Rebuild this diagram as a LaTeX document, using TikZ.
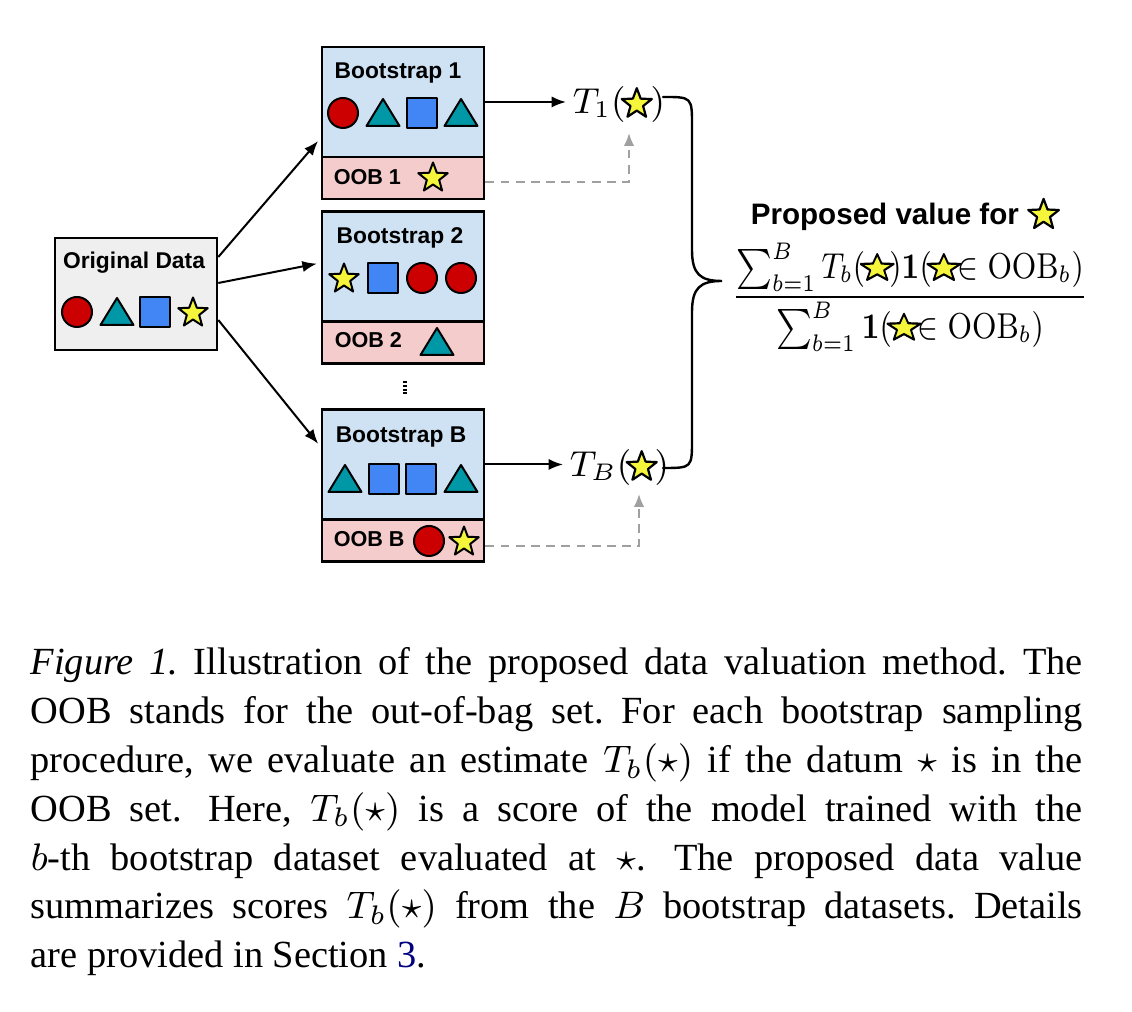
\RequirePackage{fix-cm}
\documentclass[tikz,border=0pt]{standalone}
\usepackage[no-math]{fontspec}
\setmainfont{Liberation Serif}
\setsansfont{Liberation Sans}
\usetikzlibrary{arrows.meta,calc}
\definecolor{boxgray}{HTML}{EFEFEF}
\definecolor{boxblue}{HTML}{CFE2F3}
\definecolor{boxpink}{HTML}{F4CCCC}
\definecolor{cred}{HTML}{CC0000}
\definecolor{cteal}{HTML}{0097A7}
\definecolor{cblue}{HTML}{4285F4}
\definecolor{cyel}{HTML}{F5F53C}
\definecolor{dgray}{HTML}{A0A0A0}
\definecolor{linknavy}{rgb}{0,0,0.5}
% inline star: #1 = x unit (pt), #2 = y unit (pt)
\newcommand{\ystrxy}[2]{\tikz[baseline={(0,10)}, x=#1pt, y=-#2pt]\draw[line width=0.55pt, fill=cyel, line join=round] (270:15.5) -- (306:6.5) -- (342:15.5) -- (18:6.5) -- (54:15.5) -- (90:6.5) -- (126:15.5) -- (162:6.5) -- (198:15.5) -- (234:6.5) -- cycle;}
\tikzset{
 shapeline/.style={line width=0.5pt, draw=black, line join=round},
 pcirc/.pic={\draw[shapeline, fill=cred] (0,0) circle[radius=3.75pt];},
 ptri/.pic={\draw[shapeline, fill=cteal] (0,-14) -- (16.5,13) -- (-16.5,13) -- cycle;},
 psq/.pic={\draw[shapeline, fill=cblue] (-15,-15) rectangle (15,15);},
 pstar/.pic={\draw[shapeline, fill=cyel] (270:15.5) -- (306:6.5) -- (342:15.5) -- (18:6.5) -- (54:15.5) -- (90:6.5) -- (126:15.5) -- (162:6.5) -- (198:15.5) -- (234:6.5) -- cycle;},
 boxtop/.style={draw, line width=0.65pt, fill=boxblue, minimum width=40.5pt, minimum height=27.5pt, inner sep=0pt},
 boxoob/.style={draw, line width=0.65pt, fill=boxpink, minimum width=40.5pt, minimum height=10.5pt, inner sep=0pt},
 boxorig/.style={draw, line width=0.65pt, fill=boxgray, minimum width=40.5pt, minimum height=28pt, inner sep=0pt},
 titlefont/.style={font=\fontsize{5.7pt}{6.8pt}\selectfont\sffamily\bfseries, inner sep=0pt},
 oobfont/.style={font=\fontsize{5.4pt}{6.5pt}\selectfont\sffamily\bfseries, inner sep=0pt},
 mathlbl/.style={font=\fontsize{9pt}{10.8pt}\selectfont, inner sep=1.5pt},
 arr/.style={line width=0.5pt, -{Latex[length=3.6pt,width=2.8pt]}},
 dasharr/.style={line width=0.5pt, dgray, dash pattern=on 2.2pt off 1.6pt, -{Latex[length=3.2pt,width=2.6pt]}},
}
\newcommand{\fstar}{\ystrxy{0.33}{0.23}}
\begin{document}
\begin{tikzpicture}[x=0.25pt, y=-0.25pt]
\useasboundingbox (0,0) rectangle (1132,1012);
% original data
\node[boxorig] (orig) at (136,294) {};
\node[titlefont, anchor=base] (origt) at (134,269) {Original Data};
\pic at (77,312) {pcirc};
\pic at (117,312) {ptri};
\pic at (155,312) {psq};
\pic at (193,313) {pstar};
% bootstrap 1
\node[boxtop] (b1) at (403,102) {};
\node[boxoob] (o1) at (403,178) {};
\node[titlefont, anchor=base] (b1t) at (398,79) {Bootstrap 1};
\pic at (343,113) {pcirc};
\pic at (383,113) {ptri};
\pic at (422,113) {psq};
\pic at (461,113) {ptri};
\node[oobfont, anchor=base west] (o1t) at (333,185) {OOB 1};
\pic at (433,178) {pstar};
% bootstrap 2
\node[boxtop] (b2) at (403,266.5) {};
\node[boxoob] (o2) at (403,342.5) {};
\node[titlefont, anchor=base] (b2t) at (400,244) {Bootstrap 2};
\pic at (344,279) {pstar};
\pic at (383,278) {psq};
\pic at (422,278) {pcirc};
\pic at (461,278) {pcirc};
\node[oobfont, anchor=base west] (o2t) at (334,348) {OOB 2};
\pic at (437,342) {ptri};
% dots
\draw[line width=1pt, dash pattern=on 0.5pt off 0.45pt] (405,381) -- (405,396);
% bootstrap B
\node[boxtop] (bB) at (403,464.5) {};
\node[boxoob] (oB) at (403,540.5) {};
\node[titlefont, anchor=base] (bBt) at (401,443) {Bootstrap B};
\pic at (345,479) {ptri};
\pic at (384,479) {psq};
\pic at (421,479) {psq};
\pic at (461,479) {ptri};
\node[oobfont, anchor=base west] (oBt) at (333,547) {OOB B};
\pic at (429,541) {pcirc};
\pic at (464,542) {pstar};
% arrows from original data
\draw[arr, shorten >=1pt] ([yshift=9.25pt]orig.east) -- ([yshift=-9pt]b1.west);
\draw[arr, shorten >=1pt] ([yshift=2.75pt]orig.east) -- ([yshift=0.9pt]b2.west);
\draw[arr, shorten >=1pt] ([yshift=-6.5pt]orig.east) -- ([yshift=4.4pt]bB.west);
% T labels
\node[mathlbl, anchor=base west] (t1) at (566,114) {$T_1($\hspace{-1.2pt}\ystrxy{0.255}{0.255}\hspace{-0.6pt}$)$};
\node[mathlbl, anchor=base west] (tB) at (563,477) {$T_B($\hspace{-1.4pt}\ystrxy{0.255}{0.255}\hspace{-0.8pt}$)$};
\draw[arr] (b1.east) -- (b1.east -| t1.west);
\draw[arr] (bB.east) -- (bB.east -| tB.west);
% dashed OOB arrows
\coordinate (t1s) at (629,133);
\coordinate (tBs) at (639,494);
\draw[dasharr] ([yshift=-1pt]o1.east) -| (t1s);
\draw[dasharr] ([yshift=-1.5pt]oB.east) -| (tBs);
% brace
\draw[line width=0.6pt, line cap=round] (663,97) .. controls (692,97) .. (692,126) -- (692,250) .. controls (692,274) and (700,281) .. (722,281) .. controls (700,281) and (692,288) .. (692,312) -- (692,439) .. controls (692,468) .. (663,468);
% proposed value
\node[font=\fontsize{7.4pt}{8.8pt}\selectfont\sffamily\bfseries, anchor=base west, inner sep=0pt] (pv) at (750,225) {Proposed value for \ystrxy{0.26}{0.26}};
\node[mathlbl, anchor=base, inner sep=0pt] (frac) at (910,306) {\scalebox{0.85}[1]{$\displaystyle\frac{\sum_{b=1}^{B} T_b(\hspace{-1.6pt}\fstar\hspace{-1.6pt})\mathbf{1}(\hspace{-1.6pt}\fstar\mkern-7mu\in\mathrm{OOB}_b)}{\sum_{b=1}^{B}\mathbf{1}(\hspace{-1.6pt}\fstar\mkern-7mu\in\mathrm{OOB}_b)}$}};
% caption
\node[anchor=base west, inner sep=0pt] (cap) at (30,675) {\parbox[t]{263pt}{\fontsize{9.6pt}{12.2pt}\selectfont\frenchspacing
\textit{Figure 1.} Illustration of the proposed data valuation method. The\linebreak
OOB stands for the out-of-bag set. For each bootstrap sampling\linebreak
procedure, we evaluate an estimate $T_b(\star)$ if the datum $\star$ is in the\linebreak
OOB set.\hspace{2pt} Here, $T_b(\star)$ is a score of the model trained with the\linebreak
$b$-th bootstrap dataset evaluated at $\star$.\hspace{2pt} The proposed data value\linebreak
summarizes scores $T_b(\star)$ from the $B$ bootstrap datasets. Details\linebreak
are provided in Section \textcolor{linknavy}{3}.}};
\end{tikzpicture}
\end{document}
